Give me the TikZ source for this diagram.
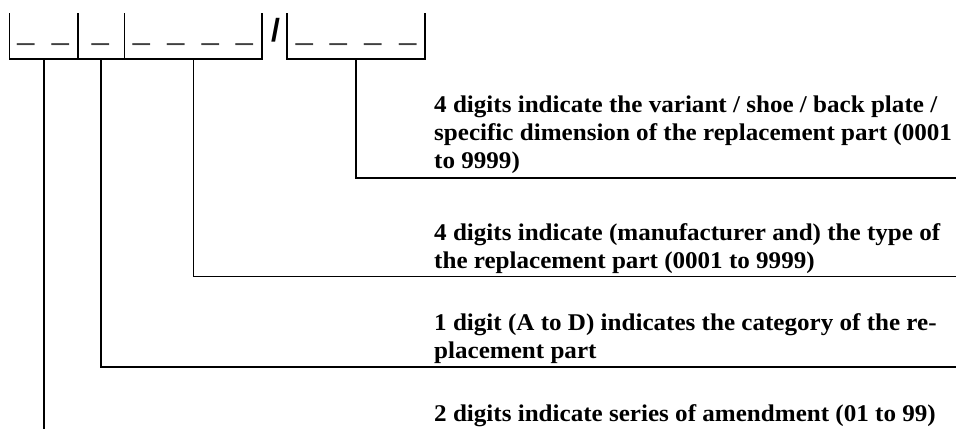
\documentclass[tikz,border=0pt]{standalone}
\usepackage{fontspec}
\setmainfont{Liberation Serif}
\newfontfamily\descfont[FakeStretch=1.045]{Liberation Serif}
\newfontfamily\usfont{Liberation Sans}
\begin{document}
\begin{tikzpicture}[x=1pt,y=-1pt,
  thickln/.style={line width=1.6pt},
  thinln/.style={line width=1pt},
  desc/.style={anchor=base west,inner sep=0pt,align=left,
    font=\descfont\fontsize{24}{28}\selectfont\bfseries},
  uscore/.style={anchor=base,inner sep=0pt,text=black!75,
    font=\usfont\fontsize{30.6}{30.6}\selectfont},
  slashmark/.style={anchor=base,inner sep=0pt,
    font=\usfont\fontsize{32}{32}\selectfont\bfseries}]
\useasboundingbox (0,0) rectangle (956,429);
% code boxes
\draw[thinln] (9,13) -- (9,59);
\draw[thickln] (9,59) -- (262,59) -- (262,13);
\draw[thickln] (78,13) -- (78,59);
\draw[thinln] (124,13) -- (124,59);
\draw[thickln] (287,13) -- (287,59) -- (425,59) -- (425,13);
% underscores
\foreach \ux/\un in {26/u1,60.5/u2,100.5/u3,141.5/u4,176/u5,210.5/u6,244.5/u7,304.5/u8,338.5/u9,373/u10,408/u11}
  \node[uscore] (\un) at (\ux,39.4) {\_};
\node[slashmark] (sl) at (275.5,41.3) {/};
% attachment points
\coordinate (a1) at (356,59);
\coordinate (a2) at (193,59);
\coordinate (a3) at (101,59);
\coordinate (a4) at (44,59);
\coordinate (e1) at (956,178);
\coordinate (e2) at (956,276);
\coordinate (e3) at (956,367);
\coordinate (e4) at (44,429);
% descriptions (anchored at the baseline of their last line)
\node[desc] (d1) at (434,168) {4 digits indicate the variant / shoe / back plate /\\specific dimension of the replacement part (0001\\to 9999)};
\node[desc] (d2) at (434,268) {4 digits indicate (manufacturer and) the type of\\the replacement part (0001 to 9999)};
\node[desc] (d3) at (434,358) {1 digit (A to D) indicates the category of the re-\\placement part};
\node[desc] (d4) at (434,421) {2 digits indicate series of amendment (01 to 99)};
% leaders
\draw[thickln] (a1) |- (e1);
\draw[thinln] (a2) |- (e2);
\draw[thickln] (a3) |- (e3);
\draw[thickln] (a4) -- (e4);
\end{tikzpicture}
\end{document}
